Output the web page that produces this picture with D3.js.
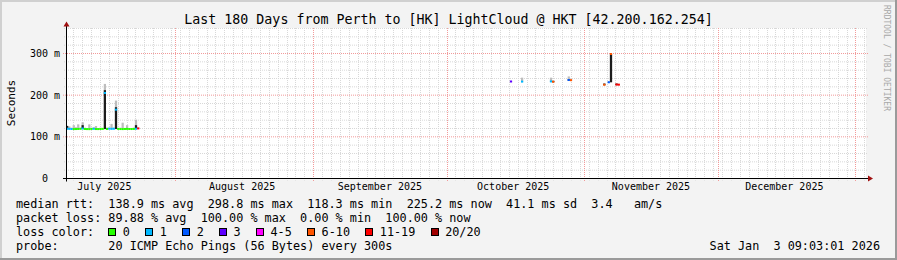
<!DOCTYPE html>
<html>
<head>
<meta charset="utf-8">
<script src="https://cdn.jsdelivr.net/npm/d3@7"></script>
<style>
body{margin:0;background:#f3f3f3;}
svg{display:block;}
text{font-family:"DejaVu Sans Mono",monospace;white-space:pre;}
</style>
</head>
<body>
<svg id="chart" width="897" height="260"></svg>
<script>
// chart span: last 180 days
var startTime = "2025-07-07T09:03:01";
var endTime = "2026-01-03T09:03:01";
var titleText = "Last 180 Days from Perth to [HK] LightCloud @ HKT [42.200.162.254]";

// y axis
var yTicks = [0, 100, 200, 300];
var yTickLabels = ["0  ", "100 m", "200 m", "300 m"];
var yMinorStep = 20;
var yMax = 360;

// first block of samples, one every 12 hours from the start
var julyMedian = [119.4,119.0,118.8,118.6,118.7,118.9,119.2,120.1,118.8,118.6,118.5,118.9,119.3,118.7,118.6,118.8,119.1,205.3,118.9,119.6,119.2,119.4,165.2,119.0,118.7,118.6,118.9,119.1,118.8,118.7,118.9,119.5,120.2];
var julyLoss   = [1,1,1,0,0,0,0,1,0,0,0,0,1,0,0,0,0,1,0,1,1,1,1,0,0,0,0,0,0,0,0,1,12];
var julyLow    = [118.4,118.4,118.3,118.3,118.3,118.4,118.5,118.6,118.4,118.3,118.3,118.4,118.5,118.3,118.3,118.4,118.5,118.6,118.4,118.5,118.5,118.6,118.7,118.5,118.3,118.3,118.4,118.5,118.4,118.3,118.4,118.6,118.8];
var julyHigh   = [127,125,122,128,123,130,122,135,122,121,130,122,123,126,121,122,121,227,122,122,131,122,187,121,122,134,121,128,121,121,122,141,122];
var julyCore   = [126,null,null,null,null,null,null,128,null,null,null,null,null,null,null,null,null,212,null,null,null,null,171,null,null,null,null,null,null,null,null,128,null];

// second block of samples (sparse)
var lateTimes  = ["2025-10-15T06:00:00","2025-10-17T18:00:00","2025-10-24T06:00:00","2025-10-24T18:00:00","2025-10-28T06:00:00","2025-10-28T18:00:00","2025-11-05T06:00:00","2025-11-06T06:00:00","2025-11-06T18:00:00","2025-11-08T00:00:00","2025-11-08T12:00:00"];
var lateMedian = [232.8,232.5,233.0,232.2,236.4,236.0,225.0,231.0,298.8,225.5,225.2];
var lateLoss   = [3,1,1,8,2,8,8,2,8,12,12];
var lateLow    = [232,232,232,231,235,235,224,230,231,224,224];
var lateHigh   = [234,242,242,236,245,238,227,233,298.8,227,227];
var lateCore   = [null,null,null,234,238,null,228,null,298,228,null];

// loss colours
var lossLabels = ["0","1","2","3","4-5","6-10","11-19","20/20"];
var lossUpper  = [0,1,2,3,5,10,19,20];
var lossColors = ["#26ff00","#00b8ff","#0059ff","#5e00ff","#ff00ff","#ff5500","#ff0000","#a10000"];

var legendRtt  = "median rtt:  138.9 ms avg  298.8 ms max  118.3 ms min  225.2 ms now  41.1 ms sd  3.4   am/s";
var legendLoss = "packet loss: 89.88 % avg  100.00 % max  0.00 % min  100.00 % now";
var legendColorTitle = "loss color:";
var legendProbe = "probe:       20 ICMP Echo Pings (56 Bytes) every 300s";
var stampText = "Sat Jan  3 09:03:01 2026";

var W = 897, H = 260;
var plotL = 66, plotR = 866, plotT = 28.5, plotB = 178.5;
var svg = d3.select("#chart");
var parse = d3.utcParse("%Y-%m-%dT%H:%M:%S");
var tStart = parse(startTime), tEnd = parse(endTime);
var sampleHours = 12;

var x = d3.scaleUtc().domain([tStart, tEnd]).range([plotL, plotR]);
var y = d3.scaleLinear().domain([0, yMax]).range([plotB, plotT]);
function px(v){ return Math.round(v) + 0.5; }

function lossColor(l)
{
	for (var i in lossUpper)
		if (l <= lossUpper[i]) return lossColors[i];
	return lossColors[lossColors.length-1];
}

// samples
var samples = [];
julyMedian.forEach(function(m, i){
	samples.push({t: d3.utcHour.offset(tStart, sampleHours*i), median: m, loss: julyLoss[i], lo: julyLow[i], hi: julyHigh[i], core: julyCore[i]});
});
lateTimes.forEach(function(s, i){
	samples.push({t: parse(s), median: lateMedian[i], loss: lateLoss[i], lo: lateLow[i], hi: lateHigh[i], core: lateCore[i]});
});

// background + frame shading
svg.append("rect").attr("width", W).attr("height", H).attr("fill", "#f3f3f3");
svg.append("rect").attr("x", 0).attr("y", 0).attr("width", W).attr("height", 2).attr("fill", "#d0d0d0");
svg.append("rect").attr("x", 0).attr("y", 0).attr("width", 2).attr("height", H).attr("fill", "#d0d0d0");
svg.append("rect").attr("x", 0).attr("y", H-2).attr("width", W).attr("height", 2).attr("fill", "#9a9a9a");
svg.append("rect").attr("x", W-2).attr("y", 0).attr("width", 2).attr("height", H).attr("fill", "#9a9a9a");

// canvas
svg.append("rect").attr("x", plotL).attr("y", plotT-0.5).attr("width", plotR-plotL).attr("height", plotB-plotT).attr("fill", "#ffffff");

var grid = svg.append("g");
var months = d3.utcMonth.range(tStart, tEnd);
var monthPx = months.map(function(d){ return px(x(d)); });
// minor vertical grid: every 2 days from midnight of the first day
var minorDays = d3.utcDay.range(d3.utcDay.floor(tStart), tEnd).filter(function(d, i){ return i%2 == 0 && d > tStart; });
minorDays.forEach(function(d){
	if (monthPx.indexOf(px(x(d))) != -1) return;
	grid.append("line").attr("x1", px(x(d))).attr("x2", px(x(d))).attr("y1", plotT-0.5).attr("y2", plotB+2)
		.attr("stroke", "#d8d8d8").attr("stroke-dasharray", "1,1");
});
// minor horizontal grid
d3.range(yMinorStep, yMax+1, yMinorStep).forEach(function(v){
	if (v % 100 == 0) return;
	grid.append("line").attr("x1", plotL-2).attr("x2", plotR+2).attr("y1", y(v)).attr("y2", y(v))
		.attr("stroke", "#d8d8d8").attr("stroke-dasharray", "1,1");
});
// major grid
monthPx.forEach(function(p){
	grid.append("line").attr("x1", p).attr("x2", p).attr("y1", plotT-0.5).attr("y2", plotB+3)
		.attr("stroke", "#f29a9a").attr("stroke-dasharray", "1,1");
});
yTicks.forEach(function(v){
	if (v == 0) return;
	grid.append("line").attr("x1", plotL-3).attr("x2", plotR+2).attr("y1", y(v)).attr("y2", y(v))
		.attr("stroke", "#f29a9a").attr("stroke-dasharray", "1,1");
});

// smoke
var step = function(d){ return x(d3.utcHour.offset(d.t, sampleHours)) - x(d.t); };
var smoke = svg.append("g");
smoke.selectAll("rect.light").data(samples).enter().append("rect").attr("class", "light")
	.attr("x", function(d){ return x(d.t); }).attr("width", step)
	.attr("y", function(d){ return y(d.hi); })
	.attr("height", function(d){ return Math.max(0, y(d.lo) - y(d.hi)); })
	.attr("fill", "#bdbdbd");
smoke.selectAll("rect.core").data(samples.filter(function(d){ return d.core != null; })).enter().append("rect").attr("class", "core")
	.attr("x", function(d){ return x(d.t); }).attr("width", step)
	.attr("y", function(d){ return y(d.core); })
	.attr("height", function(d){ return Math.max(0, y(d.lo) - y(d.core)); })
	.attr("fill", "#1c1c1c");

// median line coloured by loss
svg.append("g").selectAll("line").data(samples).enter().append("line")
	.attr("x1", function(d){ return x(d.t); })
	.attr("x2", function(d){ return x(d.t) + step(d); })
	.attr("y1", function(d){ return y(d.median); })
	.attr("y2", function(d){ return y(d.median); })
	.attr("stroke", function(d){ return lossColor(d.loss); })
	.attr("stroke-width", 2);

// axes
var axis = svg.append("g");
axis.append("line").attr("x1", plotL-3).attr("x2", plotR+3).attr("y1", plotB).attr("y2", plotB).attr("stroke", "#000");
axis.append("line").attr("x1", plotL+0.5).attr("x2", plotL+0.5).attr("y1", plotB+3).attr("y2", plotT-3).attr("stroke", "#000");
axis.append("path").attr("d", "M" + (plotR+2) + "," + (plotB-3) + " L" + (plotR+7) + "," + plotB + " L" + (plotR+2) + "," + (plotB+3) + "Z").attr("fill", "#a01010");
axis.append("path").attr("d", "M" + (plotL-2.5) + "," + (plotT-2) + " L" + (plotL+0.5) + "," + (plotT-7) + " L" + (plotL+3.5) + "," + (plotT-2) + "Z").attr("fill", "#a01010");

// y labels
yTicks.forEach(function(v, i){
	svg.append("text").attr("x", 60).attr("y", y(v) + 3.5).attr("text-anchor", "end")
		.attr("font-size", 10).text(yTickLabels[i]);
});
// month labels, centred in each month
d3.utcMonth.range(d3.utcMonth.floor(tStart), tEnd).forEach(function(m){
	var c = d3.utcDay.offset(m, 15);
	if (c < tStart || c > tEnd) return;
	svg.append("text").attr("x", x(c)).attr("y", 190).attr("text-anchor", "middle")
		.attr("font-size", 10).text(d3.utcFormat("%B %Y")(m));
});

// title and side texts
svg.append("text").attr("x", W/2).attr("y", 23.5).attr("text-anchor", "middle").attr("font-size", 13.3).text(titleText);
svg.append("text").attr("transform", "translate(15,103) rotate(-90)").attr("text-anchor", "middle").attr("font-size", 11).text("Seconds");
svg.append("text").attr("transform", "translate(884,5) rotate(90)").attr("font-size", 8.5).attr("fill", "#a8a8a8")
	.attr("textLength", 106).attr("lengthAdjust", "spacingAndGlyphs").text("RRDTOOL / TOBI OETIKER");

// legend
var lx = 16, fs = 11.8, cw = fs*0.6021;
svg.append("text").attr("x", lx).attr("y", 207.5).attr("font-size", fs).text(legendRtt);
svg.append("text").attr("x", lx).attr("y", 221.5).attr("font-size", fs).text(legendLoss);
svg.append("text").attr("x", lx).attr("y", 235.5).attr("font-size", fs).text(legendColorTitle);
svg.append("text").attr("x", lx).attr("y", 249.5).attr("font-size", fs).text(legendProbe);
svg.append("text").attr("x", 880).attr("y", 249.5).attr("text-anchor", "end").attr("font-size", fs).text(stampText);

var bx = lx + 13*cw;
lossLabels.forEach(function(lab, i){
	svg.append("rect").attr("x", Math.round(bx)+0.5).attr("y", 228.5).attr("width", 7).attr("height", 7)
		.attr("fill", lossColors[i]).attr("stroke", "#000");
	svg.append("text").attr("x", bx + 14.5).attr("y", 235.5).attr("font-size", fs).text(lab);
	bx = bx + 14.5 + lab.length*cw + 15.3;
});
</script>
</body>
</html>
